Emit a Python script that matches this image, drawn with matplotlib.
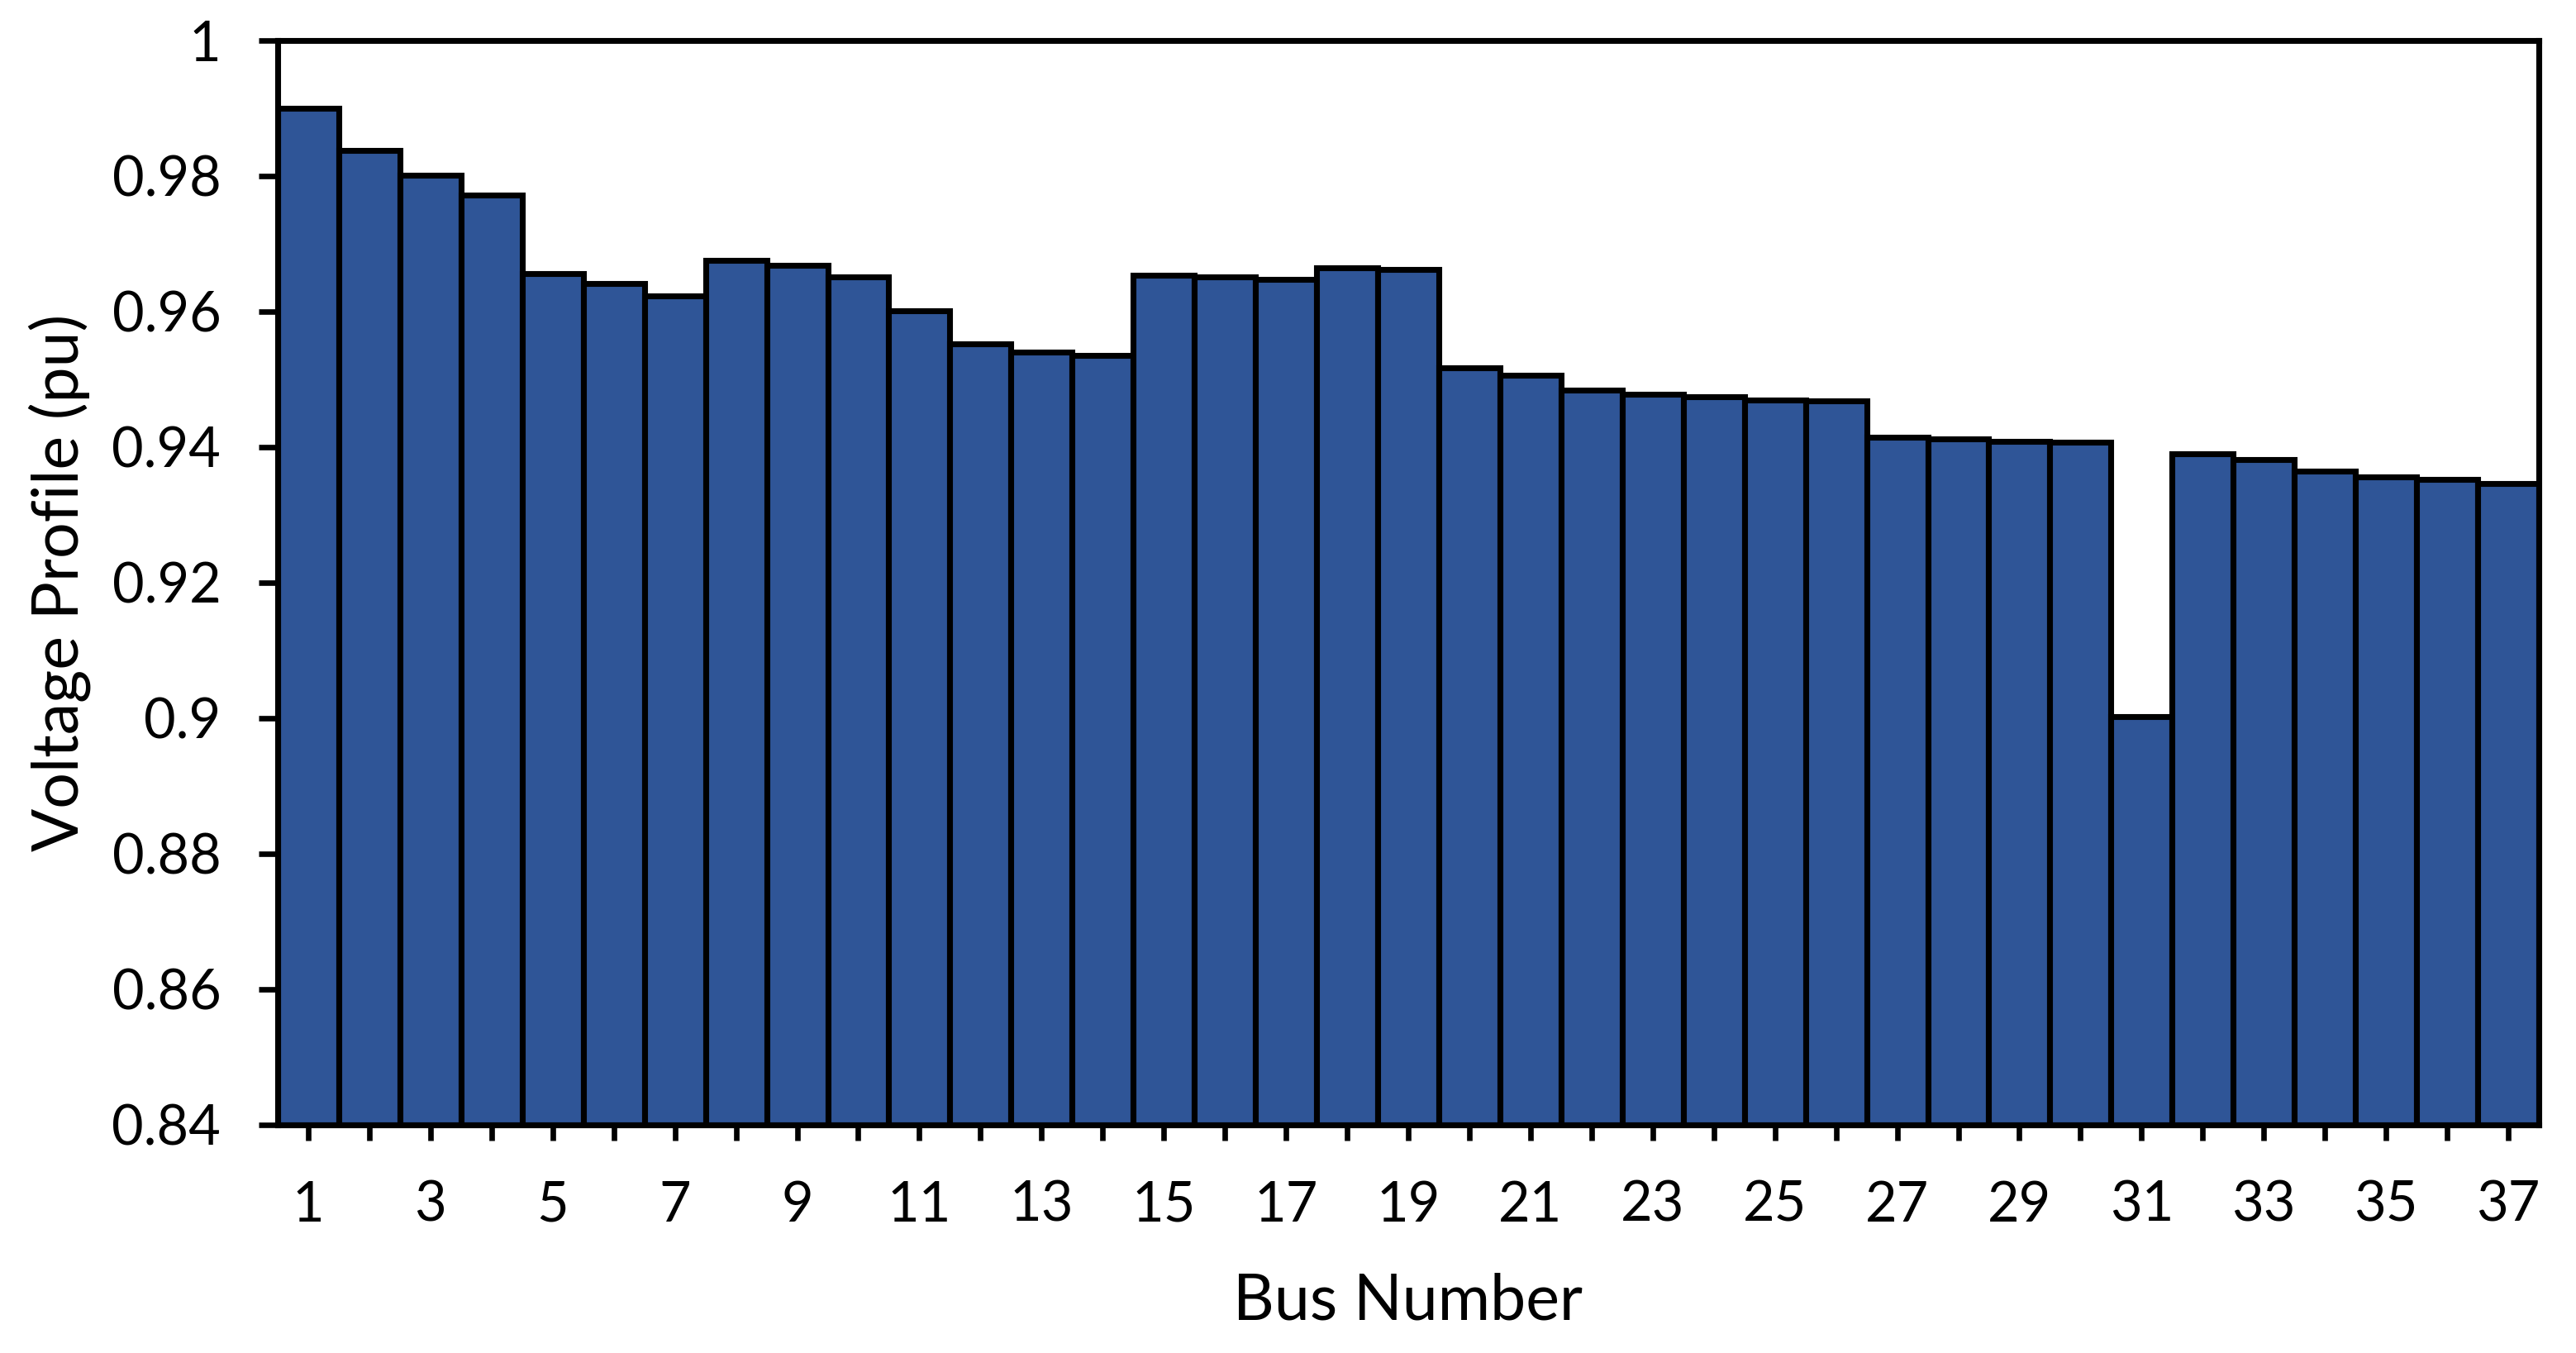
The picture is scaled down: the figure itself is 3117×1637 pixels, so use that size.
import matplotlib
matplotlib.use("Agg")
import matplotlib.pyplot as plt

BUS = list(range(1, 38))
VOLTAGE = [
    0.9900, 0.9838, 0.9801, 0.9772, 0.9656, 0.9641, 0.9623, 0.9675, 0.9668, 0.9651,
    0.9601, 0.9553, 0.9540, 0.9535, 0.9654, 0.9651, 0.9648, 0.9665, 0.9662, 0.9517,
    0.9506, 0.9484, 0.9478, 0.9474, 0.9470, 0.9468, 0.9415, 0.9412, 0.9409, 0.9407,
    0.9002, 0.9390, 0.9382, 0.9365, 0.9356, 0.9352, 0.9346,
]
Y_TICKS = [0.84, 0.86, 0.88, 0.90, 0.92, 0.94, 0.96, 0.98, 1.00]
Y_TICK_LABELS = ["0.84", "0.86", "0.88", "0.9", "0.92", "0.94", "0.96", "0.98", "1"]

BAR_COLOR = "#2F5597"
FONT = ["Lato", "DejaVu Sans"]

plt.rcParams["font.family"] = FONT

fig = plt.figure(figsize=(3117 / 300, 1637 / 300), dpi=300)
ax = fig.add_axes([336 / 3117, 1 - 1361 / 1637, (3072 - 336) / 3117, (1361 - 49) / 1637])

ax.bar(BUS, [v - 0.84 for v in VOLTAGE], bottom=0.84, width=1.0,
       color=BAR_COLOR, edgecolor="black", linewidth=1.7, zorder=2)

ax.set_xlim(0.5, 37.5)
ax.set_ylim(0.84, 1.0)
ax.set_yticks(Y_TICKS)
ax.set_yticklabels(Y_TICK_LABELS)
ax.set_xticks(BUS)
ax.set_xticklabels([str(b) if b % 2 == 1 else "" for b in BUS])

for side in ["left", "right", "top", "bottom"]:
    ax.spines[side].set_linewidth(1.7)
ax.tick_params(axis="y", direction="out", length=5.5, width=1.6, pad=11, labelsize=16)
ax.tick_params(axis="x", direction="out", length=4.5, width=1.6, pad=11.5, labelsize=16)

ax.set_xlabel("Bus Number", fontsize=18.5, labelpad=12)
ax.set_ylabel("Voltage Profile (pu)", fontsize=18.5, labelpad=6)

fig.savefig("out.png", dpi=300)
